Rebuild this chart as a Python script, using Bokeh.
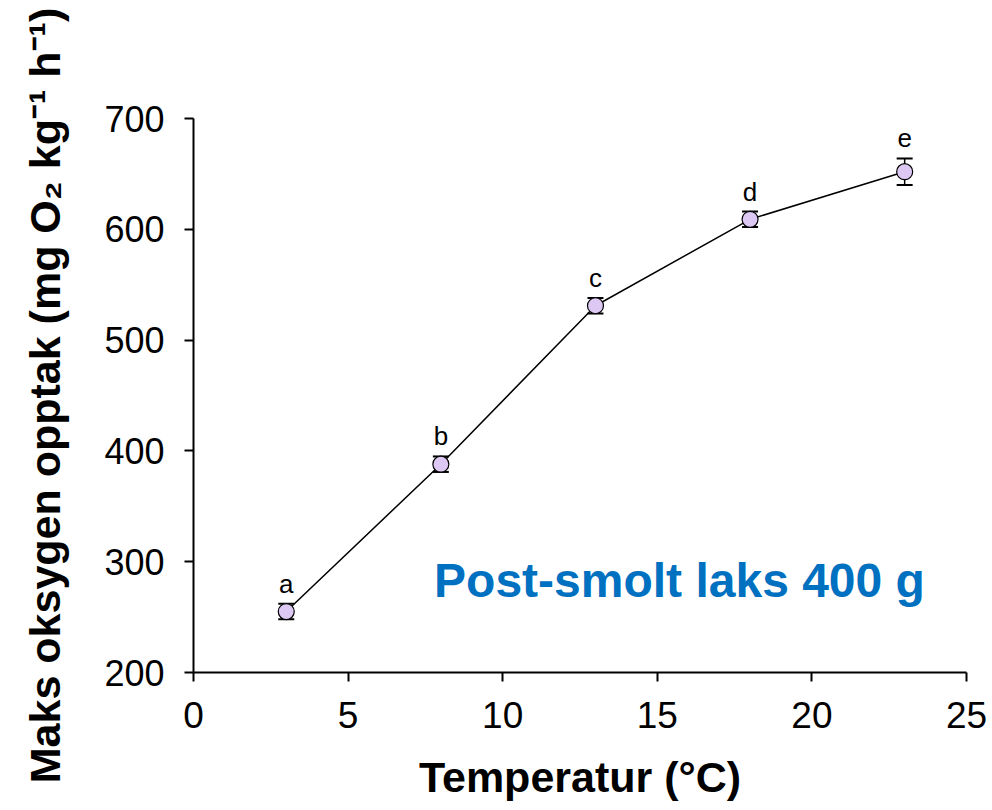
from bokeh.plotting import figure
from bokeh.models import ColumnDataSource, Whisker, Label, Range1d, FixedTicker
from bokeh.core.properties import value
from bokeh.embed import file_html
from bokeh.resources import INLINE

# Maximum oxygen uptake of 400 g post-smolt salmon at five temperatures
temperature = [3, 8, 13, 18, 23]
uptake = [255, 388, 531, 609, 652]
uptake_err = [7, 7, 7, 7, 12]
group_letters = ["a", "b", "c", "d", "e"]

x_ticks = [0, 5, 10, 15, 20, 25]
y_ticks = [200, 300, 400, 500, 600, 700]

FONT = "Liberation Sans"

src = ColumnDataSource(dict(
    x=temperature,
    y=uptake,
    lower=[v - e for v, e in zip(uptake, uptake_err)],
    upper=[v + e for v, e in zip(uptake, uptake_err)],
    letter=group_letters,
))

p = figure(width=992, height=810, output_backend="svg", toolbar_location=None,
           x_range=Range1d(0, 25), y_range=Range1d(200, 700),
           min_border_left=193, min_border_right=26,
           min_border_top=118, min_border_bottom=138)
p.outline_line_color = None
p.xgrid.visible = False
p.ygrid.visible = False

# series line, error bars and markers
p.line("x", "y", source=src, line_color="black", line_width=1.5)
wh = Whisker(base="x", lower="lower", upper="upper", source=src,
             line_color="black", line_width=1.5)
for head in (wh.upper_head, wh.lower_head):
    head.size = 16
    head.line_width = 2
    head.line_color = "black"
p.add_layout(wh)
p.scatter("x", "y", source=src, size=16, fill_color="#DCC8F2",
          line_color="black", line_width=1.2)

# significance letters above each error bar
p.text(x="x", y="upper", text="letter", source=src, y_offset=-20,
       text_align="center", text_baseline="middle",
       text_font=value(FONT), text_font_size="26px",
       text_color="black")

p.add_layout(Label(x=7.78, y=283, text="Post-smolt laks 400 g",
                   text_font=FONT, text_font_size="48px",
                   text_font_style="bold", text_color="#0070C0",
                   text_align="left", text_baseline="middle"))

# axes
for ax in (p.xaxis[0], p.yaxis[0]):
    ax.axis_line_width = 2
    ax.axis_line_color = "black"
    ax.major_tick_line_width = 2
    ax.major_tick_line_color = "black"
    ax.major_tick_out = 9
    ax.major_tick_in = 0
    ax.minor_tick_line_color = None
    ax.major_label_text_color = "black"
    ax.major_label_text_font = FONT
    ax.axis_label_text_color = "black"
    ax.axis_label_text_font_style = "bold"
    ax.axis_label_text_font = FONT
    ax.axis_label_text_font_size = "43px"

p.xaxis.ticker = FixedTicker(ticks=x_ticks)
p.yaxis.ticker = FixedTicker(ticks=y_ticks)
p.xaxis.major_label_text_font_size = "37px"
p.xaxis.major_label_standoff = 20
p.yaxis.major_label_text_font_size = "36px"
p.yaxis.major_label_standoff = 20

p.xaxis.axis_label = "Temperatur (°C)"
p.xaxis.axis_label_standoff = 22
p.yaxis.axis_label = "Maks oksygen opptak (mg O₂ kg⁻¹ h⁻¹)"
p.yaxis.axis_label_standoff = 32

open("out.html", "w").write(file_html(p, INLINE))
